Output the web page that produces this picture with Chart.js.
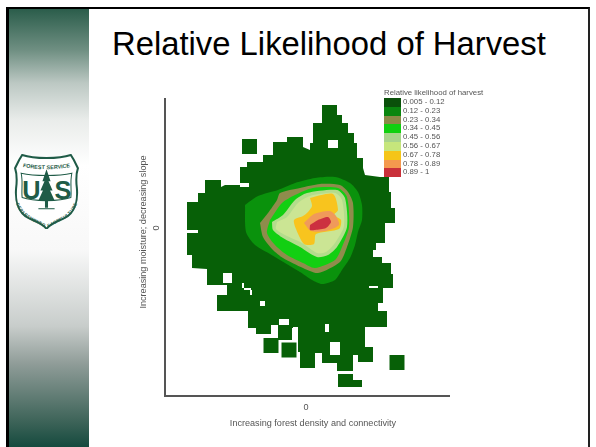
<!DOCTYPE html>
<html>
<head>
<meta charset="utf-8">
<title>Relative Likelihood of Harvest</title>
<script src="https://cdn.jsdelivr.net/npm/chart.js@4"></script>
<style>
  html, body { margin: 0; padding: 0; background: #fff; overflow: hidden; }
  #slide { position: relative; width: 596px; height: 447px; font-family: "Liberation Sans", Arial, sans-serif; }
  .frame { position: absolute; left: 6px; top: 7px; width: 579px; height: 440px; border-left: 3px solid #000; border-top: 2px solid #000; border-right: 2px solid #222; box-sizing: content-box; }
  .side {
    position: absolute; left: 9px; top: 9px; width: 80px; height: 438px;
    background: linear-gradient(to bottom,
      #2b5d4b 0px, #6f8f82 41px, #bcc8c3 74px, #e9ecea 111px, #ffffff 156px,
      #f8f8f8 241px, #c8cdcb 317px, #8f9c98 355px, #3e6459 412px, #154a3e 438px);
  }
  .slide-title { position: absolute; left: 112px; top: 25px; font-size: 32.8px; color: #000; white-space: nowrap; }
  canvas { position: absolute; left: 0; top: 0; filter: blur(0.45px); }
  #legend { position: absolute; left: 384px; top: 88px; font-size: 7.8px; color: #555; filter: blur(0.3px); }
  #legend .legend__title { height: 10px; line-height: 9px; white-space: nowrap; }
  #legend .legend__row { display: flex; height: 8.8px; line-height: 8.8px; }
  #legend .legend__swatch { width: 17px; height: 8.8px; margin-right: 2px; }
  .logo { position: absolute; left: 14px; top: 154px; }
</style>
</head>
<body>
<div id="slide">
  <div class="frame"></div>
  <div class="side"></div>
  <svg class="logo" width="65" height="75" viewBox="0 0 64 74">
    <defs>
      <path id="arcTop" d="M6 12 C18 16 46 16 58 12"></path>
      <path id="arcBottom" d="M5 44 C7 60 24 63 32 69 C40 63 57 60 59 44"></path>
    </defs>
    <path d="M32 4 C24 4 14 3 8 1 L5 6 L1 14 C3 20 3 26 2 34 C1 46 4 58 14 63 C22 67 29 69 32 74 C35 69 42 67 50 63 C60 58 63 46 62 34 C61 26 61 20 63 14 L59 6 L56 1 C50 3 40 4 32 4 Z" fill="#fff" stroke="#1f5b47" stroke-width="2"></path>
    <path d="M7 19 C20 22 44 22 57 19 C55 28 57 36 56 43 C45 47 19 47 8 43 C7 36 9 28 7 19 Z" fill="none" stroke="#1f5b47" stroke-width="1"></path>
    <text font-size="5.4" font-weight="bold" fill="#1f5b47" font-family="Liberation Sans"><textPath href="#arcTop" startOffset="50%" text-anchor="middle">FOREST SERVICE</textPath></text>
    <text font-size="4.4" font-weight="bold" fill="#1f5b47" font-family="Liberation Sans" dy="4"><textPath href="#arcBottom" startOffset="50%" text-anchor="middle">DEPARTMENT OF AGRICULTURE</textPath></text>
    <text x="8" y="44" font-size="25" font-weight="bold" fill="#1f5b47" font-family="Liberation Sans" textLength="19">U</text>
    <text x="40" y="44" font-size="25" font-weight="bold" fill="#1f5b47" font-family="Liberation Sans" textLength="16">S</text>
    <path d="M32 15 L36 27 L34 27 L38 36 L35.5 36 L40 46 L33.5 46 L33.5 53 L30.5 53 L30.5 46 L24 46 L28.5 36 L26 36 L30 27 L28 27 Z" fill="#1f5b47"></path>
    <path d="M24 54 L40 54" stroke="#1f5b47" stroke-width="1"></path>
  </svg>
  <div class="slide-title">Relative Likelihood of Harvest</div>
  <canvas id="chart" width="596" height="447"></canvas>
  <div id="legend"></div>
</div>

<script>
  const legendTitle = "Relative likelihood of harvest";
  const legendLabels = ["0.005 - 0.12", "0.12 - 0.23", "0.23 - 0.34", "0.34 - 0.45", "0.45 - 0.56", "0.56 - 0.67", "0.67 - 0.78", "0.78 - 0.89", "0.89 - 1"];
  const legendColors = ["#0a500a", "#0a860f", "#8b8a48", "#10d010", "#a9d48c", "#c6e67c", "#f5c518", "#f4994e", "#c9303a"];
  const plotColors = ["#076007", "#0a920c", "#8f8c4c", "#12cf12", "#b4dc8c", "#cbe594", "#f8c41e", "#f09a5a", "#cc3040"];

  const xTickLabels = ["0"];
  const yTickLabels = ["0"];
  const xTitle = "Increasing forest density and connectivity";
  const yTitle = "Increasing moisture; decreasing slope";

  // contours, one outline per class, in units of the two gradient axes
  const band1 = [[16,123],[31,123],[31,113],[36,113],[36,105],[42,105],[42,95],[48,95],[48,85],[51,85],[51,70],[57,70],[57,60],[59,53],[74,51],[83,51],[83,36],[85,36],[85,20],[89,20],[89,5],[79,5],[79,-15],[70,-15],[70,-22],[67,-22],[67,-29],[76,-29],[76,-35],[85,-35],[85,-46],[87,-46],[87,-60],[77,-60],[77,-75],[72,-75],[72,-83],[81,-83],[81,-99],[59,-99],[59,-119],[67,-119],[67,-134],[52,-134],[52,-127],[47,-127],[47,-143],[31,-143],[31,-135],[16,-135],[16,-125],[9,-125],[9,-140],[-6,-140],[-6,-124],[-8,-124],[-8,-100],[-14,-100],[-14,-112],[-28,-112],[-28,-97],[-35,-97],[-35,-106],[-50,-106],[-50,-100],[-58,-100],[-58,-83],[-89,-83],[-89,-67],[-79,-67],[-79,-57],[-99,-57],[-99,-41],[-114,-40],[-114,-27],[-119,-27],[-119,26],[-108,26],[-108,35],[-101,35],[-101,48],[-85,48],[-85,41],[-81,43],[-66,43],[-66,61],[-59,61],[-59,66],[-43,66],[-43,73],[-33,73],[-33,86],[-19,86],[-19,91],[-3,91],[-3,81],[4,78],[4,85],[7,85],[7,105],[16,105]];
  const band1Tail = [[32,-146],[47,-146],[47,-152],[56,-152],[56,-159],[32,-159]];
  const band2 = [[-61,23],[-48,32],[-28,38],[-11,45],[9,50],[29,51],[44,45],[52,36],[56,23],[56,8],[52,-4],[49,-17],[44,-30],[36,-42],[29,-52],[16,-56],[6,-52],[-6,-44],[-21,-35],[-36,-26],[-51,-17],[-60,-4]];
  const band3 = [[-46,5],[-38,15],[-29,28],[-26,35],[-6,40],[14,44],[34,43],[42,36],[47,25],[47,1],[41,-19],[34,-34],[12,-45],[-3,-40],[-23,-30],[-33,-22],[-43,-9]];
  const band4 = [[-36,8],[-24,25],[-11,33],[7,40],[32,40],[41,31],[43,1],[36,-19],[29,-32],[9,-40],[-3,-35],[-19,-27],[-31,-17],[-39,-5]];
  const band5 = [[-34,6],[-23,13],[-11,28],[1,35],[31,38],[39,30],[41,1],[31,-19],[22,-27],[11,-29],[-6,-19],[-23,-10],[-33,-2]];
  const band6 = [[-29,6],[-19,11],[-8,25],[4,32],[29,35],[36,28],[38,2],[29,-15],[20,-24],[11,-25],[-4,-15],[-21,-7],[-30,-1]];
  const band7 = [[4,30],[27,34],[32,18],[28,13],[35,8],[33,-1],[10,-6],[8,-16],[-2,-16],[-10,-1],[-12,8],[-3,12],[2,16],[6,22]];
  const band8 = [[-2,5],[8,14],[24,17],[30,12],[33,3],[20,-3],[5,-3]];
  const band9 = [[4,3],[12,8],[22,11],[25,6],[20,0],[9,-2],[4,-2]];
  const bands = [band1, band2, band3, band4, band5, band6, band7, band8, band9];

  // single outlying cells of the lowest class
  const outlierCells = [[-56.5,81.5],[-35,-117.5],[-17,-122],[91,-134.5]];

  // no-data holes: x1, y1, x2, y2
  const holes = [[22,88,32,80],[-119,-2,-108,-5],[-66,45,-57,41],[-83,-45,-74,-55],[-46,-73,-41,-78],[-27,-91,-17,-97],[-13,-99,-8,-114],[63,-58,72,-60],[19,-96,23,-104],[24,-114,34,-127],[-64,-55,-62,-60],[-62,-60,-55,-62],[-56,-62,-54,-67]];

  const toPoints = (list) => list.map((p) => ({ x: p[0], y: p[1] }));

  function polygon(label, list, color, order, tension) {
    return {
      label: label,
      data: toPoints(list.concat([list[0]])),
      showLine: true,
      fill: "shape",
      backgroundColor: color,
      borderColor: color,
      borderWidth: 0,
      pointRadius: 0,
      tension: tension,
      order: order,
    };
  }

  const datasets = [];
  bands.forEach((band, i) => {
    // only the outermost class keeps its blocky edge
    datasets.push(polygon(legendLabels[i], band, plotColors[i], 40 - i * 2, i === 0 ? 0 : 0.25));
  });
  datasets.push(polygon(legendLabels[0], band1Tail, plotColors[0], 39, 0));
  holes.forEach((h) => {
    const corners = [[h[0], h[1]], [h[2], h[1]], [h[2], h[3]], [h[0], h[3]]];
    datasets.push(polygon("no data", corners, "#ffffff", 30, 0));
  });
  datasets.push({
    label: legendLabels[0],
    data: toPoints(outlierCells),
    showLine: false,
    pointStyle: "rect",
    pointRadius: 10.6,
    backgroundColor: plotColors[0],
    borderWidth: 0,
    order: 35,
  });

  // tick labels and axis titles sit off-centre in the original, so they are placed by hand
  const axisText = {
    id: "axisText",
    afterDraw(chart) {
      const { ctx, scales } = chart;
      const zeroX = scales.x.getPixelForValue(Number(xTickLabels[0]));
      const zeroY = scales.y.getPixelForValue(Number(yTickLabels[0]));
      ctx.save();
      ctx.fillStyle = "#555";
      ctx.textAlign = "center";
      ctx.textBaseline = "middle";
      ctx.font = '9.1px "Liberation Sans"';
      ctx.fillText(xTickLabels[0], zeroX, scales.y.bottom + 11);
      ctx.fillText(xTitle, zeroX + 7, scales.y.bottom + 27);

      ctx.translate(156, zeroY);
      ctx.rotate(-Math.PI / 2);
      ctx.fillText(yTickLabels[0], 0, 0);
      ctx.fillText(yTitle, -4, -13);
      ctx.restore();
    },
  };

  new Chart(document.getElementById("chart"), {
    type: "scatter",
    data: { datasets: datasets },
    plugins: [axisText],
    options: {
      responsive: false,
      animation: false,
      layout: { padding: { left: 165, right: 147, top: 99, bottom: 51 } },
      plugins: { legend: { display: false }, tooltip: { enabled: false }, title: { display: false } },
      scales: {
        x: {
          type: "linear",
          min: -141,
          max: 143,
          grid: { display: false, drawTicks: false },
          border: { color: "#555", width: 2 },
          ticks: { display: false },
        },
        y: {
          type: "linear",
          min: -168,
          max: 129,
          grid: { display: false, drawTicks: false },
          border: { color: "#555", width: 2 },
          ticks: { display: false },
        },
      },
    },
  });

  const legendEl = document.getElementById("legend");
  legendEl.innerHTML =
    `<div class="legend__title">${legendTitle}</div>` +
    legendLabels
      .map(
        (label, i) =>
          `<div class="legend__row"><div class="legend__swatch" style="background:${legendColors[i]}"></div><span>${label}</span></div>`
      )
      .join("");
</script>
</body>
</html>
